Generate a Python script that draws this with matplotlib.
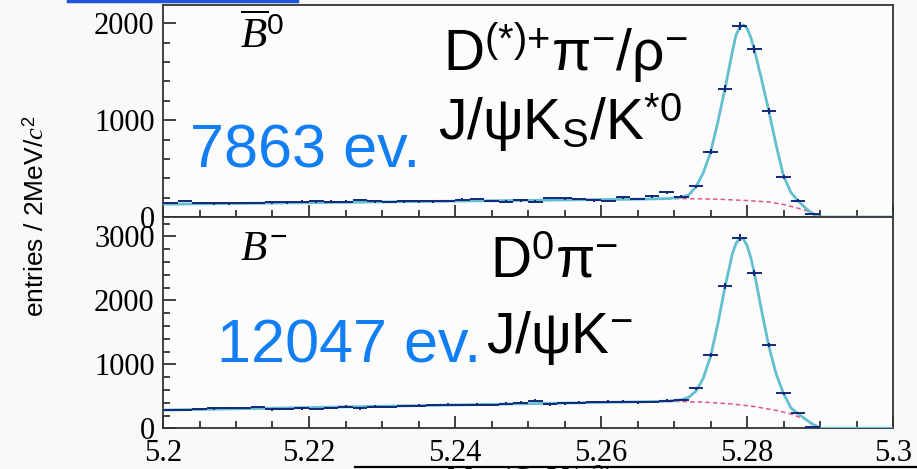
import numpy as np
import matplotlib.pyplot as plt
from matplotlib.lines import Line2D
from matplotlib.ticker import FixedLocator, FixedFormatter, MultipleLocator

plt.rcParams['font.family'] = 'Liberation Serif'
plt.rcParams['mathtext.fontset'] = 'custom'
plt.rcParams['mathtext.rm'] = 'Liberation Sans'
plt.rcParams['mathtext.it'] = 'Liberation Serif:italic'
plt.rcParams['mathtext.bf'] = 'Liberation Sans:bold'

# Mbc histograms, 2 MeV bins starting at 5.200
bin_lo = 5.200
bin_w = 0.002

counts_b0 = [144, 165, 144, 141, 141, 144, 144, 151, 151, 158,
             162, 158, 158, 175, 162, 155, 162, 162, 162, 165,
             179, 186, 165, 158, 172, 158, 196, 192, 186, 172,
             165, 203, 186, 213, 254, 209, 316, 673, 1327, 1972,
             1732, 1096, 409, 168, 31]
counts_bm = [290, 290, 300, 310, 315, 320, 335, 295, 305, 310,
             300, 320, 340, 310, 340, 330, 350, 355, 360, 370,
             365, 370, 360, 385, 400, 430, 375, 390, 400, 410,
             415, 415, 405, 410, 430, 445, 623, 1146, 2229, 2978,
             2428, 1303, 545, 240, 20]

# fit curves (signal + background) and background-only component
fit_x = [5.200, 5.210, 5.220, 5.230, 5.240, 5.250, 5.260, 5.266, 5.269, 5.271,
         5.272, 5.273, 5.274, 5.275, 5.276, 5.277, 5.278, 5.2785, 5.279, 5.2795,
         5.280, 5.2805, 5.281, 5.282, 5.283, 5.284, 5.285, 5.286, 5.287, 5.288,
         5.289, 5.2895, 5.290, 5.300]
fit_b0 = [132, 140, 148, 156, 164, 172, 180, 185, 190, 203,
          225, 310, 455, 665, 980, 1330, 1710, 1880, 1960, 1985,
          1950, 1860, 1730, 1420, 1090, 740, 425, 255, 165, 95,
          32, 10, 0, 0]
fit_bm = [285, 305, 325, 345, 365, 385, 405, 415, 425, 445,
          485, 580, 780, 1120, 1630, 2220, 2730, 2893, 2973, 2963,
          2860, 2677, 2435, 1840, 1280, 845, 545, 320, 230, 145,
          62, 38, 0, 0]

bkg_x_b0 = [5.200, 5.220, 5.240, 5.260, 5.268, 5.272, 5.276, 5.280, 5.283,
            5.285, 5.287, 5.288, 5.289, 5.2895, 5.290]
bkg_b0 = [132, 148, 164, 180, 188, 190, 184, 170, 155, 130, 90, 68, 42, 28, 0]
bkg_x_bm = [5.200, 5.220, 5.240, 5.260, 5.270, 5.274, 5.278, 5.281, 5.284,
            5.286, 5.288, 5.289, 5.2895, 5.290]
bkg_bm = [285, 325, 365, 405, 420, 410, 380, 340, 280, 225, 140, 70, 40, 0]

x_ticks = [5.2, 5.22, 5.24, 5.26, 5.28, 5.3]
x_ticklabels = ['5.2', '5.22', '5.24', '5.26', '5.28', '5.3']

W, H = 917, 469
fig = plt.figure(figsize=(W / 100, H / 100), dpi=100, facecolor='#f9f9f9')


def px(x, y):
    return x / W, 1 - y / H


ax_top = fig.add_axes([163 / W, 1 - 217 / H, 730 / W, 212 / H])
ax_bot = fig.add_axes([163 / W, 1 - 428.3 / H, 730 / W, 211.3 / H])


def draw_panel(ax, counts, fit, bkg_x, bkg, ymax, show_xlabels):
    n = np.array(counts, dtype=float)
    centers = bin_lo + bin_w * (np.arange(len(n)) + 0.5)
    ax.set_facecolor('#fcfcfc')
    ax.plot(bkg_x, bkg, color='#e0568c', lw=1.1, ls=(0, (3, 2)), zorder=2)
    ax.plot(fit_x, fit, color='#62bfcf', lw=2.0, zorder=3)
    ax.errorbar(centers, n, xerr=bin_w / 2, yerr=np.sqrt(n), fmt='none',
                ecolor='#13287a', elinewidth=1.4, capsize=0, zorder=4)
    ax.set_xlim(5.2, 5.3)
    ax.set_ylim(0, ymax)
    ax.xaxis.set_major_locator(FixedLocator(x_ticks))
    ax.xaxis.set_major_formatter(FixedFormatter(x_ticklabels))
    ax.xaxis.set_minor_locator(MultipleLocator(0.005))
    ax.yaxis.set_major_locator(MultipleLocator(1000))
    ax.yaxis.set_minor_locator(MultipleLocator(200))
    ax.tick_params(which='both', direction='in', top=False, right=False,
                   color='#222222', width=1.2, labelsize=22, pad=6)
    ax.tick_params(which='major', length=9)
    ax.tick_params(which='minor', length=5)
    ax.tick_params(axis='x', labelbottom=show_xlabels, pad=8)
    for s in ax.spines.values():
        s.set_color('#333333')
        s.set_linewidth(1.3)


draw_panel(ax_top, counts_b0, fit_b0, bkg_x_b0, bkg_b0, 2190, False)
draw_panel(ax_bot, counts_bm, fit_bm, bkg_x_bm, bkg_bm, 3305, True)

sans = 'Liberation Sans'
blue = '#127ef4'

fig.text(*px(240, 48), r'$\overline{B}^{0}$', fontsize=31, va='baseline')
fig.text(*px(240, 260), r'$B^{-}$', fontsize=31, va='baseline')

fig.text(*px(443, 70), r'D$^{(*){+}}$π$^{-}$/ρ$^{-}$', family=sans,
         fontsize=41, va='baseline')
fig.text(*px(438, 140), r'J/ψK$_{\mathrm{S}}$/K$^{*0}$', family=sans,
         fontsize=41, va='baseline')
fig.text(*px(490, 277), r'D$^{0}$π$^{-}$', family=sans,
         fontsize=41, va='baseline')
fig.text(*px(486, 353), r'J/ψK$^{-}$', family=sans,
         fontsize=41, va='baseline')

fig.text(*px(190, 168), '7863 ev.', family=sans, color=blue,
         fontsize=44, va='baseline')
fig.text(*px(217, 362), '12047 ev.', family=sans, color=blue,
         fontsize=44, va='baseline')

fig.text(*px(36, 216), r'entries / 2MeV/$c^2$', family=sans, fontsize=19,
         rotation=90, ha='center', va='center')

# axis title, mostly below the bottom edge
fig.text(*px(530, 463), r'$M_{\mathrm{bc}}$ (GeV/$c^2$)', fontsize=22,
         ha='center', va='top')

fig.add_artist(Line2D([355 / W, 1.0], [1 - 467 / H] * 2, color='black', lw=1.6))
fig.add_artist(Line2D([68 / W, 297 / W], [1 - 1 / H] * 2, color='#1d55d6', lw=2.5))

fig.savefig('out.png', dpi=100, facecolor=fig.get_facecolor())
